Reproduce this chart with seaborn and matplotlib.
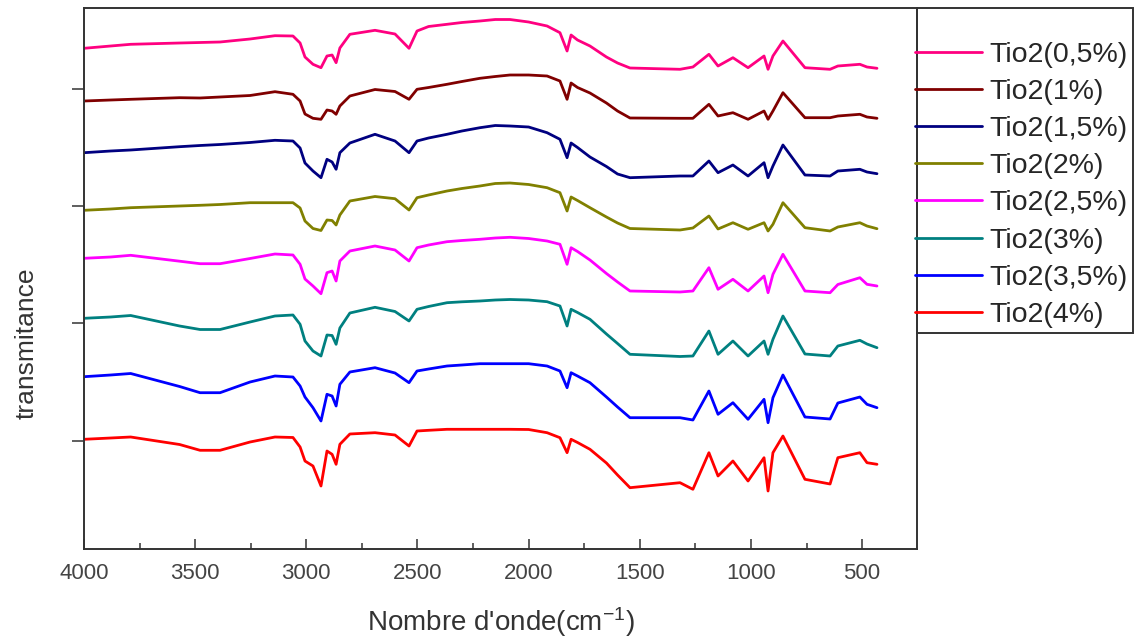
import matplotlib
matplotlib.use("Agg")
import matplotlib.pyplot as plt
from matplotlib.ticker import MultipleLocator, NullFormatter, FixedLocator
from matplotlib.patches import Rectangle
import pandas as pd
import seaborn as sns

# FTIR spectra of the TiO2-loaded films, stacked (arbitrary transmittance units)
wavenumber = [4000, 3880, 3790, 3570, 3478, 3388, 3253, 3141, 3060, 3028,
              3006, 2970, 2934, 2907, 2884, 2866, 2849, 2804, 2691, 2601,
              2538, 2502, 2450, 2367, 2300, 2219, 2150, 2084, 2000, 1917,
              1859, 1827, 1809, 1780, 1724, 1650, 1600, 1544, 1319, 1261,
              1189, 1148, 1081, 1013, 941, 923, 901, 856, 757, 644,
              609, 510, 478, 433]

tio2_0_5 = [500.7, 503, 504.7, 506, 506.5, 507, 510, 513.3, 513, 506,
            492, 484.7, 481.3, 493, 494, 486.3, 501, 514.7, 518.7, 515,
            500.7, 518, 522.5, 524.7, 526.5, 528, 529.5, 529.5, 527, 523,
            516.3, 498, 514, 509, 503, 492, 486, 481, 479.7, 482,
            494.7, 483, 491.3, 481.3, 493, 479.7, 493, 508, 481.3, 479.7,
            483, 484.7, 482, 480.7]
tio2_1 = [448, 449, 449.7, 451.3, 451, 452, 453.5, 457.3, 454.7, 448,
          435, 430.7, 429.7, 439, 438, 434.7, 443, 453, 459.5, 457.5,
          449.7, 459.7, 461.5, 464.7, 467.5, 470.7, 472.5, 474, 474, 473,
          468, 449.7, 466, 461.5, 456, 446, 438, 431, 430.7, 430.7,
          444.7, 433, 436.3, 429.7, 438, 429.7, 438, 456.3, 431.3, 431.3,
          433, 434.7, 432, 430.7]
tio2_1_5 = [396.3, 398, 399, 402.3, 403.5, 404.5, 406.5, 408.7, 408, 401,
            386, 378, 371.3, 389.7, 387, 379.7, 396.3, 406, 414.7, 408,
            396.3, 408, 411, 414.7, 418, 421.3, 423.5, 423, 422, 416.3,
            409.7, 391.3, 406, 401.5, 392, 382.5, 375, 371.3, 373, 373,
            388, 376.3, 384, 373, 386.3, 371.3, 383, 404, 374, 373,
            378, 379.7, 377, 375.3]
tio2_2 = [338.7, 340, 341.3, 343, 343.7, 344.5, 346.3, 346.3, 346.3, 341,
          328, 320.5, 318.5, 329, 328.5, 324, 334, 348, 352.5, 350.3,
          339, 351.3, 354, 358, 360.5, 363, 365.5, 366, 364.5, 361.3,
          356.3, 338, 352, 348.5, 341.3, 332, 326, 320.5, 319, 321,
          333, 320, 326.3, 319.7, 326.3, 318, 324.7, 346.3, 321.3, 318,
          322, 326.3, 323, 320.3]
tio2_2_5 = [290.7, 292, 293.7, 287.8, 285.3, 285.3, 290.5, 295, 294, 284.7,
            270, 263, 255.3, 276.3, 278, 268, 288, 298, 303, 299,
            288, 301.3, 304, 307.3, 308.5, 309.7, 311, 311.7, 310.5, 308,
            304.7, 284.7, 301.3, 297.5, 289, 275.5, 267, 258, 257, 258,
            281.3, 259.7, 269.7, 258, 273, 256.3, 274.7, 294.7, 258, 256.3,
            264.5, 271.3, 264.7, 263]
tio2_3 = [230.7, 232, 233.5, 223, 219.5, 219.5, 227, 233, 234, 224.7,
          208, 198, 193, 214, 213.5, 204.7, 221, 236, 241.7, 237.5,
          228, 239.7, 242.5, 246.3, 247.2, 248, 249, 249.5, 249, 247.3,
          243, 223, 239.7, 236.5, 229.7, 215, 205.5, 194.7, 192.5, 193,
          218, 194.7, 208, 193, 208, 194.7, 209.7, 233, 195, 193,
          203, 208.7, 205, 201.3]
tio2_3_5 = [172.3, 174, 175.5, 162.5, 156.3, 156.3, 167, 173, 172, 163,
            152, 141.3, 128, 154.7, 153, 143, 164.7, 177, 181.3, 176,
            166.3, 178, 180, 183, 184, 185.3, 185.3, 185.3, 185.3, 183,
            178, 161.3, 176.3, 173, 166.3, 152, 142, 131.3, 131.3, 129,
            158, 134.7, 146.3, 129.7, 149.7, 126.3, 151.3, 174, 132, 130,
            146, 152, 144.7, 141.3]
tio2_4 = [109.7, 111, 112, 104.5, 98.7, 98.7, 107, 112, 111.5, 102,
          88, 83, 63, 98, 94.7, 84.7, 104.7, 115, 116.3, 114,
          103, 118, 118.7, 119.7, 119.7, 119.7, 119.7, 119.7, 119.5, 116.3,
          111.3, 96.3, 109.7, 106.5, 99.7, 86, 74, 61.3, 66.3, 59.7,
          96.3, 73, 88, 68, 91.3, 58, 96.3, 113, 69.7, 65,
          91.3, 96.3, 86.3, 84.7]

labels = ["Tio2(0,5%)", "Tio2(1%)", "Tio2(1,5%)", "Tio2(2%)",
          "Tio2(2,5%)", "Tio2(3%)", "Tio2(3,5%)", "Tio2(4%)"]
spectra = [tio2_0_5, tio2_1, tio2_1_5, tio2_2, tio2_2_5, tio2_3, tio2_3_5, tio2_4]
colors = ["#FF0080", "#800000", "#000080", "#808000",
          "#FF00FF", "#008080", "#0000FF", "#FF0000"]
y_ticks = [108, 226, 343, 460]

frames = [pd.DataFrame({"wavenumber": wavenumber, "transmittance": s, "sample": lab})
          for s, lab in zip(spectra, labels)]
df = pd.concat(frames, ignore_index=True)

sns.set_style("ticks")
plt.rcParams["font.family"] = ["Liberation Sans", "DejaVu Sans"]
plt.rcParams["mathtext.default"] = "regular"

W, H = 1142, 637
fig = plt.figure(figsize=(W / 100, H / 100), dpi=100)
ax = fig.add_axes([84 / W, (H - 549) / H, 833 / W, 541 / H])

sns.lineplot(data=df, x="wavenumber", y="transmittance", hue="sample",
             hue_order=labels, palette=colors, sort=False, estimator=None,
             legend=False, linewidth=2.0, ax=ax)

ax.set_xlim(4000, 253)
ax.set_ylim(0, 541)
ax.xaxis.set_major_locator(MultipleLocator(500))
ax.xaxis.set_minor_locator(MultipleLocator(250))
ax.yaxis.set_major_locator(FixedLocator(y_ticks))
ax.yaxis.set_major_formatter(NullFormatter())

edge = "#333333"
for sp in ax.spines.values():
    sp.set_visible(True)
    sp.set_color(edge)
    sp.set_linewidth(1.4)

ax.tick_params(axis="x", which="major", direction="in", length=7, width=1.1,
               color=edge, labelsize=16, pad=10, labelcolor="#444444")
ax.tick_params(axis="x", which="minor", direction="in", length=4, width=1.1, color=edge)
ax.tick_params(axis="y", which="major", direction="out", length=9, width=1.1, color=edge)

ax.set_xlabel("Nombre d'onde(cm$^{-1}$)", fontsize=20, color="#333333", labelpad=15)
ax.set_ylabel("transmitance", fontsize=19, color="#333333")
ax.yaxis.set_label_coords(-0.054, 0.381)

handles = ax.get_lines()[:len(labels)]
fig.legend(handles, labels, loc="upper left", bbox_to_anchor=(915 / W, 1 - 42 / H),
           bbox_transform=fig.transFigure, frameon=False, fontsize=20.5,
           handlelength=2.35, handletextpad=0.25, labelspacing=0.39,
           borderpad=0, borderaxespad=0)
fig.add_artist(Rectangle((917 / W, (H - 333) / H), 216 / W, 325 / H,
                         transform=fig.transFigure, fill=False,
                         edgecolor=edge, linewidth=1.4))

fig.savefig("out.png", dpi=100)
